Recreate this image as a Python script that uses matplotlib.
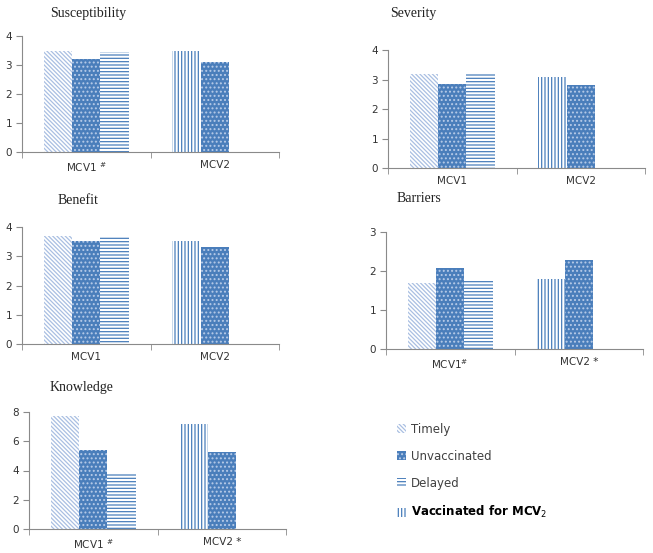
import numpy as np
import matplotlib
matplotlib.use("Agg")
import matplotlib.pyplot as plt
from matplotlib.patches import Patch

# values
categories = ["MCV1", "MCV2"]
timely = {"Susceptibility": 3.5, "Severity": 3.2, "Benefit": 3.7, "Barriers": 1.7, "Knowledge": 7.7}
unvacc_mcv1 = {"Susceptibility": 3.22, "Severity": 2.85, "Benefit": 3.52, "Barriers": 2.08, "Knowledge": 5.4}
delayed = {"Susceptibility": 3.45, "Severity": 3.2, "Benefit": 3.7, "Barriers": 1.8, "Knowledge": 3.85}
vacc_mcv2 = {"Susceptibility": 3.5, "Severity": 3.1, "Benefit": 3.53, "Barriers": 1.8, "Knowledge": 7.2}
unvacc_mcv2 = {"Susceptibility": 3.1, "Severity": 2.8, "Benefit": 3.33, "Barriers": 2.27, "Knowledge": 5.25}

y_max = {"Susceptibility": 4, "Severity": 4, "Benefit": 4, "Barriers": 3, "Knowledge": 8}
y_step = {"Susceptibility": 1, "Severity": 1, "Benefit": 1, "Barriers": 1, "Knowledge": 2}
xlabels = {
    "Susceptibility": [r"MCV1 $^{\#}$", "MCV2"],
    "Severity": ["MCV1", "MCV2"],
    "Benefit": ["MCV1", "MCV2"],
    "Barriers": [r"MCV1$^{\#}$", "MCV2 *"],
    "Knowledge": [r"MCV1 $^{\#}$", "MCV2 *"],
}

BLUE = "#4a7ebb"
LIGHT = "#a9bfe2"
plt.rcParams["hatch.linewidth"] = 0.9

styles = {
    "timely": dict(facecolor="white", edgecolor=LIGHT, hatch="\\" * 8, linewidth=0),
    "unvacc": dict(facecolor=BLUE, edgecolor="#b7cbe8", hatch="....", linewidth=0),
    "delayed": dict(facecolor="white", edgecolor=BLUE, hatch="-----", linewidth=0),
    "vacc": dict(facecolor="white", edgecolor=BLUE, hatch="|||||", linewidth=0),
}

W, H = 653, 553
fig = plt.figure(figsize=(W / 100, H / 100), dpi=100)

# axes boxes in pixels: x0, x1, y_top, y_bottom
boxes = {
    "Susceptibility": (22, 279, 36, 152),
    "Severity": (388, 645, 50, 168),
    "Benefit": (22, 279, 227, 344),
    "Barriers": (386, 643, 232, 349),
    "Knowledge": (29, 286, 412, 529),
}
titles_pos = {
    "Susceptibility": (50, 13),
    "Severity": (390, 13),
    "Benefit": (58, 200),
    "Barriers": (397, 199),
    "Knowledge": (50, 387),
}

bw = 0.22
x = np.arange(len(categories))
for name, (x0, x1, yt, yb) in boxes.items():
    ax = fig.add_axes([x0 / W, 1 - yb / H, (x1 - x0) / W, (yb - yt) / H])
    ax.bar(x[0] - bw, timely[name], bw, **styles["timely"])
    ax.bar(x[0], unvacc_mcv1[name], bw, **styles["unvacc"])
    ax.bar(x[0] + bw, delayed[name], bw, **styles["delayed"])
    ax.bar(x[1] - bw, vacc_mcv2[name], bw, **styles["vacc"])
    ax.bar(x[1], unvacc_mcv2[name], bw, **styles["unvacc"])

    ax.set_xlim(-0.5, 1.5)
    ax.set_ylim(0, y_max[name])
    ax.set_yticks(np.arange(0, y_max[name] + 0.1, y_step[name]))
    ax.set_xticks(x)
    ax.set_xticklabels(xlabels[name], fontsize=7.5, color="#333333", family="DejaVu Sans")
    ax.set_xticks([-0.5, 0.5, 1.5], minor=True)
    ax.tick_params(axis="x", which="major", length=0, pad=6)
    ax.tick_params(axis="x", which="minor", length=4, color="#8a8a8a", direction="out")
    ax.tick_params(axis="y", length=4, color="#8a8a8a", labelsize=7.5, labelcolor="#333333", pad=3)
    for s in ["top", "right"]:
        ax.spines[s].set_visible(False)
    for s in ["left", "bottom"]:
        ax.spines[s].set_color("#8a8a8a")
        ax.spines[s].set_linewidth(0.8)
    ax.set_facecolor("none")

    tx, ty = titles_pos[name]
    fig.text(tx / W, 1 - ty / H, name, family="Liberation Serif", fontsize=10,
             ha="left", va="center", color="#222222")

# legend
handles = [
    Patch(**{**styles["timely"], "label": "Timely"}),
    Patch(**{**styles["unvacc"], "label": "Unvaccinated"}),
    Patch(**{**styles["delayed"], "label": "Delayed"}),
    Patch(**{**styles["vacc"], "label": r"Vaccinated for MCV$_2$"}),
]
leg = fig.legend(handles=handles, loc="upper left", bbox_to_anchor=(386 / W, 1 - 412 / H),
                 frameon=False, fontsize=8.5, handlelength=0.8, handleheight=0.8,
                 handletextpad=0.4, labelspacing=1.2)
for t in leg.get_texts():
    t.set_color("#404040")
leg.get_texts()[-1].set_fontweight("bold")
leg.get_texts()[-1].set_color("black")

fig.savefig("out.png", dpi=100, facecolor="white")
